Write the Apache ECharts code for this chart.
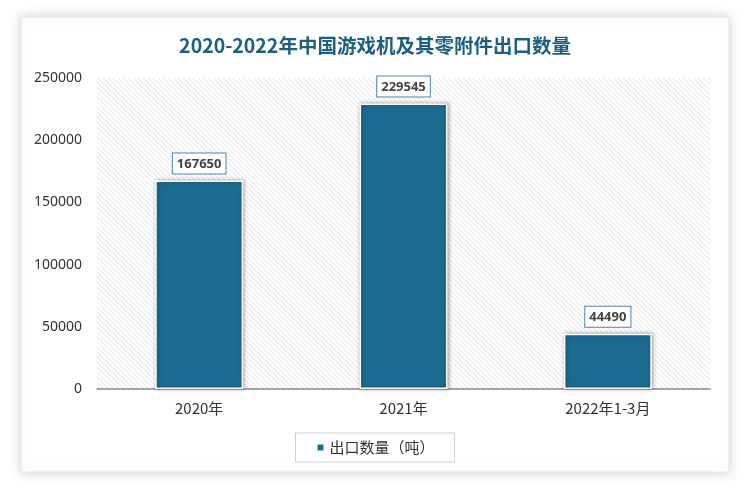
<!DOCTYPE html>
<html><head><meta charset="utf-8">
<script src="https://cdn.jsdelivr.net/npm/echarts@6/dist/echarts.min.js"></script>
<style>html,body{margin:0;padding:0;background:#fff}#c{width:750px;height:491px}</style>
</head><body><div id="c"></div>
<script>
const categories = ['2020年', '2021年', '2022年1-3月'];
const values = [167650, 229545, 44490];
const seriesName = '出口数量（吨）';
const titleText = '2020-2022年中国游戏机及其零附件出口数量';

const pc = document.createElement('canvas');
pc.width = 5; pc.height = 5;
const ctx = pc.getContext('2d');
ctx.fillStyle = '#ffffff'; ctx.fillRect(0,0,5,5);
ctx.strokeStyle = '#e2e2e2'; ctx.lineWidth = 1;
ctx.beginPath();
ctx.moveTo(-1,-1); ctx.lineTo(6,6);
ctx.moveTo(-1,4); ctx.lineTo(1,6);
ctx.moveTo(4,-1); ctx.lineTo(6,1);
ctx.stroke();

const chart = echarts.init(document.getElementById('c'));
chart.setOption({
  backgroundColor: '#fff',
  graphic: [{
    type: 'rect', z: -10, silent: true,
    shape: { x: 21, y: 17, width: 708, height: 455 },
    style: { fill: '#fff', stroke: '#e6e6e6', lineWidth: 1, shadowBlur: 12, shadowColor: 'rgba(0,0,0,0.18)', shadowOffsetX: 0, shadowOffsetY: 0 }
  }],
  title: {
    text: titleText, left: 'center', top: 31,
    textStyle: { fontFamily: 'Noto Sans CJK SC', fontSize: 19.5, fontWeight: 'bold', color: '#1d5f80' }
  },
  legend: {
    bottom: 29, left: 'center', itemWidth: 8, itemHeight: 8, itemGap: 8,
    borderColor: '#d0d0d0', borderWidth: 1, padding: [7, 20, 7, 20],
    icon: 'rect',
    textStyle: { fontFamily: 'Noto Sans CJK SC', fontSize: 15, color: '#333' },
    data: [seriesName]
  },
  grid: {
    left: 97, right: 40, top: 78, bottom: 102, show: true, borderWidth: 0,
    backgroundColor: { image: pc, repeat: 'repeat' }
  },
  xAxis: {
    type: 'category', data: categories,
    axisLine: { lineStyle: { color: '#888', width: 1.5 } },
    axisTick: { show: false },
    axisLabel: { margin: 12, fontSize: 15, color: '#333', fontFamily: 'Noto Sans CJK SC' }
  },
  yAxis: {
    type: 'value', min: 0, max: 250000, interval: 50000,
    axisLine: { show: false }, axisTick: { show: false }, splitLine: { show: false },
    axisLabel: { margin: 15, fontSize: 14, color: '#333', fontFamily: 'Noto Sans', formatter: v => String(v) }
  },
  series: [{
    name: seriesName, type: 'bar', data: values, barWidth: '43%',
    itemStyle: { color: '#1c6b90', borderColor: '#fff', borderWidth: 1.5, shadowBlur: 4, shadowColor: 'rgba(0,0,0,0.35)', shadowOffsetX: 1, shadowOffsetY: 0 },
    label: {
      show: true, position: 'top', distance: 7,
      backgroundColor: '#fff', borderColor: '#4a87a8', borderWidth: 1, padding: [4, 4, 3, 4],
      fontSize: 13, fontWeight: 'bold', color: '#444', fontFamily: 'Noto Sans'
    }
  }]
});
</script></body></html>
